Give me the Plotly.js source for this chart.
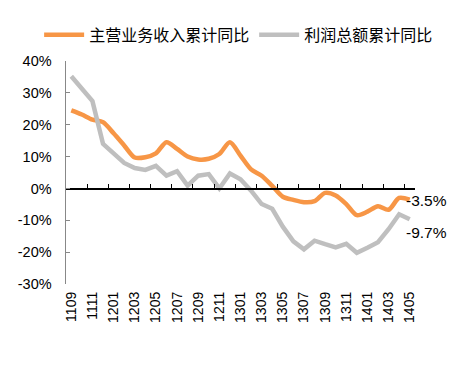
<!DOCTYPE html>
<html>
<head>
<meta charset="utf-8">
<script src="https://cdn.plot.ly/plotly-3.0.1.min.js"></script>
<style>
html,body{margin:0;padding:0;background:#fff;}
#chart{width:468px;height:365px;}
</style>
</head>
<body>
<div id="chart"></div>
<script>
var months = ['1109','1110','1111','1112','1201','1202','1203','1204','1205','1206','1207','1208',
  '1209','1210','1211','1212','1301','1302','1303','1304','1305','1306','1307','1308',
  '1309','1310','1311','1312','1401','1402','1403','1404','1405'];
var revenueYoY = [24.5, 23.2, 21.6, 20.8, 17.3, 13.5, 9.7, 9.8, 11.0, 14.5, 12.4, 10.0,
  9.1, 9.3, 10.8, 14.5, 10.3, 6.0, 4.0, 0.8, -2.6, -3.6, -4.3, -4.0,
  -1.4, -2.2, -4.9, -8.4, -7.3, -5.6, -6.7, -3.0, -3.5];
var profitYoY = [35.2, 31.3, 27.4, 14.0, 10.8, 8.0, 6.4, 5.8, 7.1, 4.0, 5.4, 0.9,
  4.0, 4.5, 0.0, 4.7, 2.9, -0.7, -4.9, -6.4, -12.0, -16.6, -19.1, -16.4,
  -17.5, -18.5, -17.4, -20.2, -18.6, -16.9, -12.8, -8.1, -9.7];
var seriesNames = ['主营业务收入累计同比', '利润总额累计同比'];
var yTicks = [-30, -20, -10, 0, 10, 20, 30, 40];

var orange = '#F79646';
var grey = '#BFBFBF';
var yMin = -30, yMax = 40;
var n = months.length;
var labelVals = months.filter(function(m, i){ return i % 2 === 0; });
var boundaryTicks = [];
for (var k = 1; k < n - 1; k += 2) boundaryTicks.push(k + 0.5);

var traces = [
  {x: months, y: revenueYoY, name: seriesNames[0], type: 'scatter', mode: 'lines',
   line: {color: orange, width: 4.5, shape: 'spline', smoothing: 0.8}, hoverinfo: 'x+y'},
  {x: months, y: profitYoY, name: seriesNames[1], type: 'scatter', mode: 'lines',
   line: {color: grey, width: 4.5}, hoverinfo: 'x+y'},
  {x: [], y: [], xaxis: 'x2', yaxis: 'y', showlegend: false, hoverinfo: 'skip', type: 'scatter'}
];

var fmt = function(v){ return v.toFixed(1) + '%'; };

var layout = {
  width: 468, height: 365,
  margin: {l: 66, r: 53, t: 61, b: 81, autoexpand: false},
  paper_bgcolor: '#fff', plot_bgcolor: '#fff',
  font: {family: 'Liberation Sans, Arial, sans-serif', size: 14, color: '#000'},
  showlegend: true,
  legend: {orientation: 'h', x: -0.077, xanchor: 'left', y: 1.117, yanchor: 'middle',
    font: {family: 'Noto Sans CJK SC, sans-serif', size: 16, color: '#000'},
    itemwidth: 40, tracegroupgap: 0, bgcolor: 'rgba(0,0,0,0)'},
  xaxis: {type: 'category', range: [-0.5, n - 0.5], tickmode: 'array', tickvals: labelVals,
    ticktext: labelVals, tickangle: -90, ticks: '', showline: false, showgrid: false,
    zeroline: false, ticklabelstandoff: 4, tickfont: {size: 14}},
  xaxis2: {type: 'linear', overlaying: 'x', anchor: 'free',
    position: (0 - yMin) / (yMax - yMin), range: [-0.5, n - 0.5], showline: true,
    linecolor: '#000', linewidth: 1.5, ticks: 'inside', ticklen: 4, tickwidth: 1, tickcolor: '#000',
    tickmode: 'array', tickvals: boundaryTicks, showticklabels: false, showgrid: false, zeroline: false},
  yaxis: {range: [yMin, yMax], tickmode: 'array', tickvals: yTicks,
    ticktext: yTicks.map(function(v){ return v + '%'; }),
    showline: true, linecolor: '#888', linewidth: 1.5, ticks: 'inside', ticklen: 4,
    tickcolor: '#888', tickwidth: 1.2, showgrid: false, zeroline: false,
    ticklabelstandoff: 10, tickfont: {size: 14.5}},
  annotations: [
    {x: n - 1, y: revenueYoY[n - 1], xref: 'x2', yref: 'y', text: fmt(revenueYoY[n - 1]),
     showarrow: false, xanchor: 'left', yanchor: 'middle', xshift: -6, yshift: -1,
     font: {size: 15.5, color: '#000'}},
    {x: n - 1, y: profitYoY[n - 1], xref: 'x2', yref: 'y', text: fmt(profitYoY[n - 1]),
     showarrow: false, xanchor: 'left', yanchor: 'middle', xshift: -6, yshift: -13,
     font: {size: 15.5, color: '#000'}}
  ]
};

Plotly.newPlot('chart', traces, layout, {displayModeBar: false, staticPlot: true});
</script>
</body>
</html>
